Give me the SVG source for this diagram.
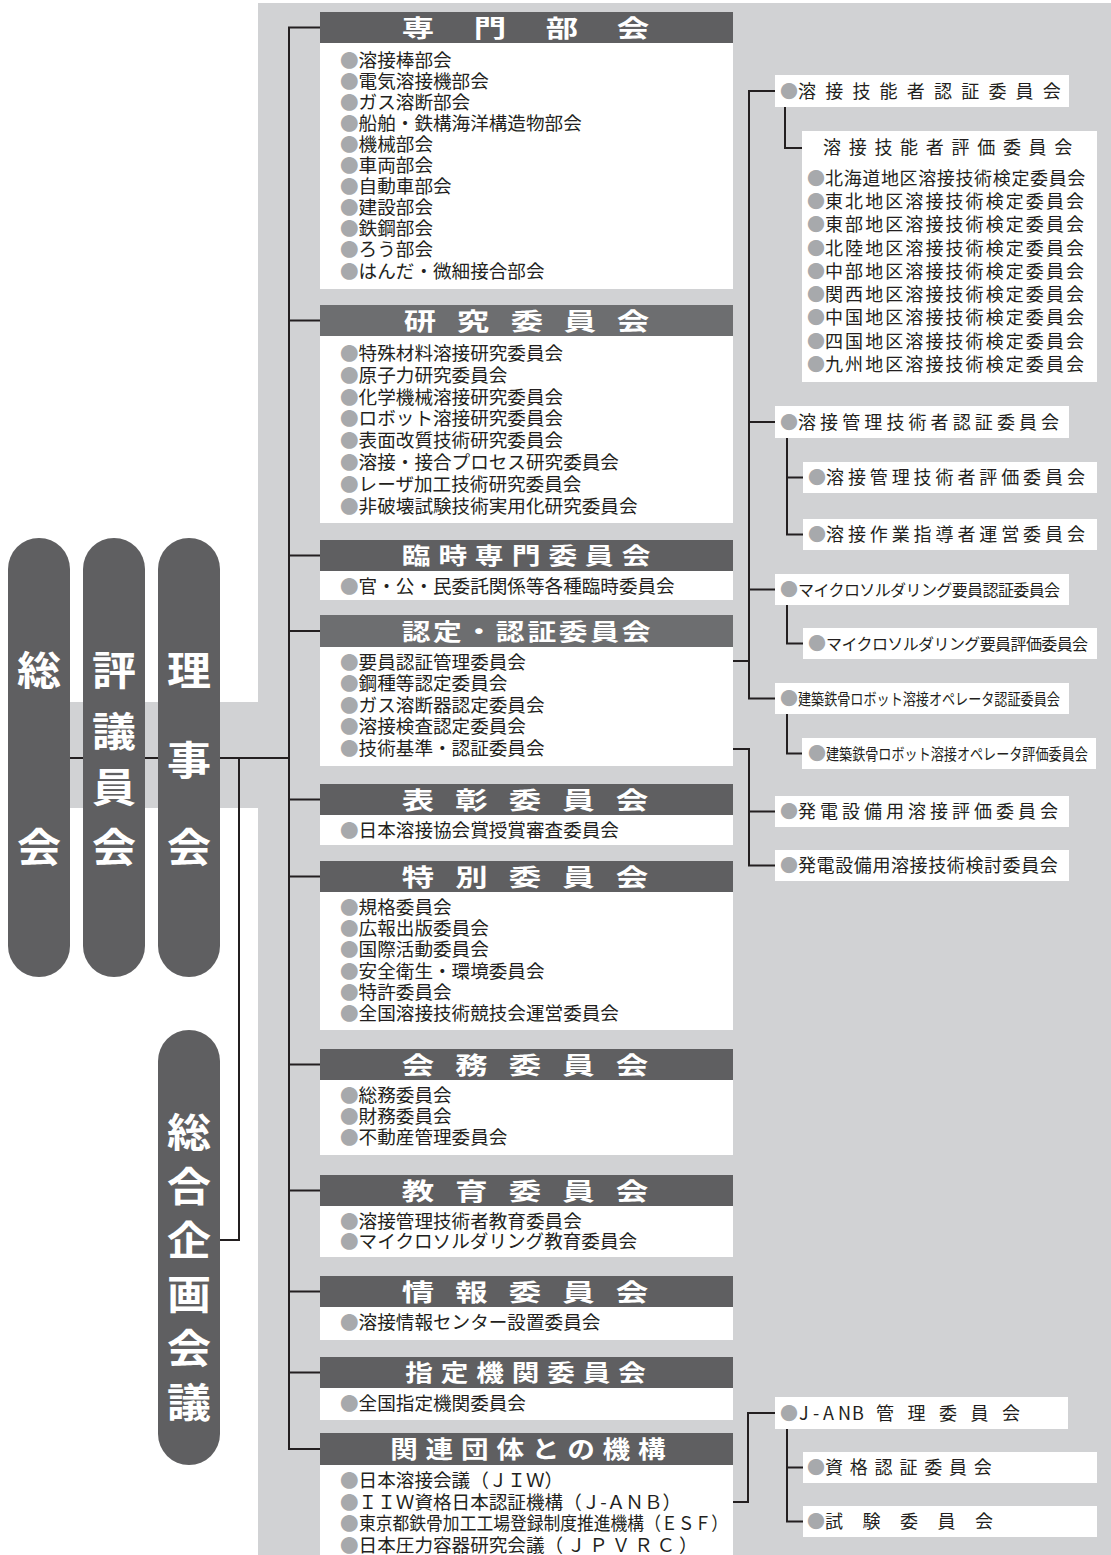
<svg xmlns="http://www.w3.org/2000/svg" width="1111" height="1555" viewBox="0 0 1111 1555">
<style>
text{font-family:"Noto Sans CJK JP","Noto Sans",sans-serif;fill:#231f20}
.bg{fill:#d1d2d4}
.pill{fill:#5f5f61}
.hd{fill:#5f5f61}
.hd2{fill:#6d6e70}
.wb{fill:#ffffff}
.pt{font-size:40px;font-weight:700;fill:#ffffff;text-anchor:middle}
.ht{font-size:24px;font-weight:700;fill:#ffffff;text-anchor:middle}
.hs{font-size:23px;font-weight:700;fill:#ffffff;text-anchor:middle}
.it{font-size:18.6px}
.rt{font-size:18px}
.bl{fill:#a7a9ac}
.ln{stroke:#231f20;stroke-width:2;fill:none}
</style>
<rect class="bg" x="258" y="3" width="853" height="1552"/>
<rect class="bg" x="70" y="702" width="190" height="106"/>

<g id="connectors">
<path class="ln" d="M70,758H83M145,758H158M220,758H289"/>
<path class="ln" d="M239,758V1240H220"/>
<path class="ln" d="M320,27.5H289V1449H320M289,320.5H320M289,555.5H320M289,631H320M289,799.5H320M289,876.5H320M289,1064.5H320M289,1190.5H320M289,1291.5H320M289,1372.5H320"/>
<path class="ln" d="M775,91H749V698.5H775M749,422H775M749,589.5H775M535,661H749"/>
<path class="ln" d="M785,107V148H802M787,438V534.5H803M787,477.5H803M787,605V643.5H803M787,714V753.5H802"/>
<path class="ln" d="M552,749H749V865.5H775M749,811.5H775"/>
<path class="ln" d="M687,1502H748V1413H775M787,1429V1521.5H803M787,1467.5H803"/>
</g>

<g id="n-soukai"><rect class="pill" x="8" y="538" width="62" height="439" rx="31"/><text class="pt" transform="scale(1.1,1)" x="35.45 35.45" y="685 862">総会</text></g>
<g id="n-hyogiinkai"><rect class="pill" x="83" y="538" width="62" height="439" rx="31"/><text class="pt" transform="scale(1.1,1)" x="103.6 103.6 103.6 103.6" y="685 746 802 862">評議員会</text></g>
<g id="n-rijikai"><rect class="pill" x="158" y="538" width="62" height="439" rx="31"/><text class="pt" transform="scale(1.1,1)" x="171.8 171.8 171.8" y="685 775 862">理事会</text></g>
<g id="n-sogokikaku"><rect class="pill" x="158" y="1030" width="62" height="435" rx="31"/><text class="pt" transform="scale(1.1,1)" x="171.8 171.8 171.8 171.8 171.8 171.8" y="1147 1201 1255 1309 1363 1417">総合企画会議</text></g>

<g id="n-senmonbukai">
<rect class="hd" x="320" y="12" width="413" height="31"/><rect class="wb" x="320" y="43" width="413" height="246"/>
<text class="ht" transform="scale(1.35,1)" x="309.6 363 416.3 468.9" y="36.6">専門部会</text>
<text class="it" x="340" y="66.5"><tspan class="bl">●</tspan>溶接棒部会</text>
<text class="it" x="340" y="87.6"><tspan class="bl">●</tspan>電気溶接機部会</text>
<text class="it" x="340" y="108.7"><tspan class="bl">●</tspan>ガス溶断部会</text>
<text class="it" x="340" y="129.8"><tspan class="bl">●</tspan>船舶・鉄構海洋構造物部会</text>
<text class="it" x="340" y="150.9"><tspan class="bl">●</tspan>機械部会</text>
<text class="it" x="340" y="172"><tspan class="bl">●</tspan>車両部会</text>
<text class="it" x="340" y="193.1"><tspan class="bl">●</tspan>自動車部会</text>
<text class="it" x="340" y="214.2"><tspan class="bl">●</tspan>建設部会</text>
<text class="it" x="340" y="235.3"><tspan class="bl">●</tspan>鉄鋼部会</text>
<text class="it" x="340" y="256.4"><tspan class="bl">●</tspan>ろう部会</text>
<text class="it" x="340" y="277.5"><tspan class="bl">●</tspan>はんだ・微細接合部会</text>
</g>

<g id="n-kenkyu">
<rect class="hd2" x="320" y="305" width="413" height="31"/><rect class="wb" x="320" y="336" width="413" height="187"/>
<text class="ht" transform="scale(1.35,1)" x="311.1 350.4 390.4 429.6 468.9" y="329.6">研究委員会</text>
<text class="it" x="340" y="360"><tspan class="bl">●</tspan>特殊材料溶接研究委員会</text>
<text class="it" x="340" y="381.8"><tspan class="bl">●</tspan>原子力研究委員会</text>
<text class="it" x="340" y="403.6"><tspan class="bl">●</tspan>化学機械溶接研究委員会</text>
<text class="it" x="340" y="425.4"><tspan class="bl">●</tspan>ロボット溶接研究委員会</text>
<text class="it" x="340" y="447.2"><tspan class="bl">●</tspan>表面改質技術研究委員会</text>
<text class="it" x="340" y="469"><tspan class="bl">●</tspan>溶接・接合プロセス研究委員会</text>
<text class="it" x="340" y="490.8"><tspan class="bl">●</tspan>レーザ加工技術研究委員会</text>
<text class="it" x="340" y="512.6"><tspan class="bl">●</tspan>非破壊試験技術実用化研究委員会</text>
</g>

<g id="n-rinji">
<rect class="hd" x="320" y="540" width="413" height="31"/><rect class="wb" x="320" y="571" width="413" height="29"/>
<text class="hs" transform="scale(1.25,1)" x="332.8 362.2 391.4 420.8 450.2 479.4 508.8" y="564.2">臨時専門委員会</text>
<text class="it" x="340" y="593"><tspan class="bl">●</tspan>官・公・民委託関係等各種臨時委員会</text>
</g>

<g id="n-nintei">
<rect class="hd2" x="320" y="615" width="413" height="32"/><rect class="wb" x="320" y="647" width="413" height="119"/>
<text class="hs" transform="scale(1.25,1)" x="332.8 357.9 383.1 408.2 433.4 458.5 483.7 508.8" y="639.7">認定・認証委員会</text>
<text class="it" x="340" y="669"><tspan class="bl">●</tspan>要員認証管理委員会</text>
<text class="it" x="340" y="690.4"><tspan class="bl">●</tspan>鋼種等認定委員会</text>
<text class="it" x="340" y="711.8"><tspan class="bl">●</tspan>ガス溶断器認定委員会</text>
<text class="it" x="340" y="733.2"><tspan class="bl">●</tspan>溶接検査認定委員会</text>
<text class="it" x="340" y="754.6"><tspan class="bl">●</tspan>技術基準・認証委員会</text>
</g>

<g id="n-hyosho">
<rect class="hd" x="320" y="784" width="413" height="31"/><rect class="wb" x="320" y="815" width="413" height="30"/>
<text class="ht" transform="scale(1.35,1)" x="309.6 349.3 388.9 428.5 468.1" y="808.6">表彰委員会</text>
<text class="it" x="340" y="837"><tspan class="bl">●</tspan>日本溶接協会賞授賞審査委員会</text>
</g>

<g id="n-tokubetsu">
<rect class="hd" x="320" y="861" width="413" height="31"/><rect class="wb" x="320" y="892" width="413" height="138"/>
<text class="ht" transform="scale(1.35,1)" x="309.6 349.3 388.9 428.5 468.1" y="885.6">特別委員会</text>
<text class="it" x="340" y="914"><tspan class="bl">●</tspan>規格委員会</text>
<text class="it" x="340" y="935.2"><tspan class="bl">●</tspan>広報出版委員会</text>
<text class="it" x="340" y="956.4"><tspan class="bl">●</tspan>国際活動委員会</text>
<text class="it" x="340" y="977.6"><tspan class="bl">●</tspan>安全衛生・環境委員会</text>
<text class="it" x="340" y="998.8"><tspan class="bl">●</tspan>特許委員会</text>
<text class="it" x="340" y="1020"><tspan class="bl">●</tspan>全国溶接技術競技会運営委員会</text>
</g>

<g id="n-kaimu">
<rect class="hd" x="320" y="1049" width="413" height="31"/><rect class="wb" x="320" y="1080" width="413" height="75"/>
<text class="ht" transform="scale(1.35,1)" x="309.6 349.3 388.9 428.5 468.1" y="1073.6">会務委員会</text>
<text class="it" x="340" y="1102"><tspan class="bl">●</tspan>総務委員会</text>
<text class="it" x="340" y="1123"><tspan class="bl">●</tspan>財務委員会</text>
<text class="it" x="340" y="1144"><tspan class="bl">●</tspan>不動産管理委員会</text>
</g>

<g id="n-kyoiku">
<rect class="hd" x="320" y="1175" width="413" height="31"/><rect class="wb" x="320" y="1206" width="413" height="51"/>
<text class="ht" transform="scale(1.35,1)" x="309.6 349.3 388.9 428.5 468.1" y="1199.6">教育委員会</text>
<text class="it" x="340" y="1228"><tspan class="bl">●</tspan>溶接管理技術者教育委員会</text>
<text class="it" x="340" y="1248"><tspan class="bl">●</tspan>マイクロソルダリング教育委員会</text>
</g>

<g id="n-joho">
<rect class="hd" x="320" y="1276" width="413" height="31"/><rect class="wb" x="320" y="1307" width="413" height="33"/>
<text class="ht" transform="scale(1.35,1)" x="309.6 349.3 388.9 428.5 468.1" y="1300.6">情報委員会</text>
<text class="it" x="340" y="1329"><tspan class="bl">●</tspan>溶接情報センター設置委員会</text>
</g>

<g id="n-shitei">
<rect class="hd" x="320" y="1357" width="413" height="31"/><rect class="wb" x="320" y="1388" width="413" height="32"/>
<text class="hs" transform="scale(1.2,1)" x="349.2 378.75 408.3 437.9 467.5 497.1 526.7" y="1381.2">指定機関委員会</text>
<text class="it" x="340" y="1410"><tspan class="bl">●</tspan>全国指定機関委員会</text>
</g>

<g id="n-kanren">
<rect class="hd" x="320" y="1433" width="413" height="32"/><rect class="wb" x="320" y="1465" width="413" height="90"/>
<text class="ht" transform="scale(1.15,1)" x="351.3 382.1 412.9 443.7 474.4 505.2 536 566.8" y="1458.3">関連団体との機構</text>
<text class="it" x="340" y="1487"><tspan class="bl">●</tspan>日本溶接会議（ＪＩＷ）</text>
<text class="it" x="340" y="1508.7"><tspan class="bl">●</tspan>ＩＩＷ資格日本認証機構（Ｊ-ＡＮＢ）</text>
<text class="it" x="340" y="1530.4"><tspan class="bl">●</tspan><tspan x="359" textLength="369" lengthAdjust="spacingAndGlyphs">東京都鉄骨加工工場登録制度推進機構（ＥＳＦ）</tspan></text>
<text class="it" x="340" y="1552.1"><tspan class="bl">●</tspan>日本圧力容器研究会議<tspan letter-spacing="3.8">（ＪＰＶＲＣ）</tspan></text>
</g>

<g id="n-ginousha">
<rect class="wb" x="775" y="75" width="294" height="32"/>
<text class="rt" x="780" y="97.8"><tspan class="bl">●</tspan><tspan letter-spacing="9.2">溶接技能者認証委員会</tspan></text>
</g>

<g id="n-ginousha-hyoka">
<rect class="wb" x="802" y="131" width="295" height="251"/>
<text class="rt" x="823" y="154" letter-spacing="7.7">溶接技能者評価委員会</text>
<text class="rt" x="807" y="184.8"><tspan class="bl">●</tspan><tspan letter-spacing="0.64">北海道地区溶接技術検定委員会</tspan></text>
<text class="rt" x="807" y="208"><tspan class="bl">●</tspan><tspan letter-spacing="2.08">東北地区溶接技術検定委員会</tspan></text>
<text class="rt" x="807" y="231.3"><tspan class="bl">●</tspan><tspan letter-spacing="2.08">東部地区溶接技術検定委員会</tspan></text>
<text class="rt" x="807" y="254.5"><tspan class="bl">●</tspan><tspan letter-spacing="2.08">北陸地区溶接技術検定委員会</tspan></text>
<text class="rt" x="807" y="277.8"><tspan class="bl">●</tspan><tspan letter-spacing="2.08">中部地区溶接技術検定委員会</tspan></text>
<text class="rt" x="807" y="301"><tspan class="bl">●</tspan><tspan letter-spacing="2.08">関西地区溶接技術検定委員会</tspan></text>
<text class="rt" x="807" y="324.3"><tspan class="bl">●</tspan><tspan letter-spacing="2.08">中国地区溶接技術検定委員会</tspan></text>
<text class="rt" x="807" y="347.5"><tspan class="bl">●</tspan><tspan letter-spacing="2.08">四国地区溶接技術検定委員会</tspan></text>
<text class="rt" x="807" y="370.8"><tspan class="bl">●</tspan><tspan letter-spacing="2.08">九州地区溶接技術検定委員会</tspan></text>
</g>

<g id="n-kanri-nintei">
<rect class="wb" x="775" y="406" width="294" height="32"/>
<text class="rt" x="780" y="428.8"><tspan class="bl">●</tspan><tspan letter-spacing="4.1">溶接管理技術者認証委員会</tspan></text>
</g>
<g id="n-kanri-hyoka">
<rect class="wb" x="803" y="462" width="294" height="31"/>
<text class="rt" x="808" y="484.3"><tspan class="bl">●</tspan><tspan letter-spacing="3.9">溶接管理技術者評価委員会</tspan></text>
</g>
<g id="n-sagyo-shidosha">
<rect class="wb" x="803" y="519" width="294" height="31"/>
<text class="rt" x="808" y="541.3"><tspan class="bl">●</tspan><tspan letter-spacing="3.9">溶接作業指導者運営委員会</tspan></text>
</g>
<g id="n-micro-nintei">
<rect class="wb" x="775" y="574" width="294" height="31"/>
<text class="rt" x="780" y="596"><tspan class="bl">●</tspan><tspan style="font-size:16px" letter-spacing="-0.6">マイクロソルダリング要員認証委員会</tspan></text>
</g>
<g id="n-micro-hyoka">
<rect class="wb" x="803" y="628" width="294" height="31"/>
<text class="rt" x="808" y="650"><tspan class="bl">●</tspan><tspan style="font-size:16px" letter-spacing="-0.6">マイクロソルダリング要員評価委員会</tspan></text>
</g>
<g id="n-kenchiku-nintei">
<rect class="wb" x="775" y="683" width="294" height="31"/>
<text class="rt bl" x="780" y="705.3">●</text>
<text class="rt" style="font-size:16px" transform="translate(798,704.6) scale(0.819,1)" x="0" y="0">建築鉄骨ロボット溶接オペレータ認証委員会</text>
</g>
<g id="n-kenchiku-hyoka">
<rect class="wb" x="802" y="738" width="294" height="31"/>
<text class="rt bl" x="808" y="760.3">●</text>
<text class="rt" style="font-size:16px" transform="translate(826,759.6) scale(0.819,1)" x="0" y="0">建築鉄骨ロボット溶接オペレータ評価委員会</text>
</g>
<g id="n-hatsuden-hyoka">
<rect class="wb" x="775" y="796" width="294" height="31"/>
<text class="rt" x="780" y="818.3"><tspan class="bl">●</tspan><tspan letter-spacing="4">発電設備用溶接評価委員会</tspan></text>
</g>
<g id="n-hatsuden-kento">
<rect class="wb" x="775" y="850" width="294" height="31"/>
<text class="rt" x="780" y="872.3"><tspan class="bl">●</tspan><tspan letter-spacing="0.6">発電設備用溶接技術検討委員会</tspan></text>
</g>
<g id="n-janb">
<rect class="wb" x="775" y="1397" width="293" height="32"/>
<text class="rt" x="780" y="1419.8"><tspan class="bl">●</tspan><tspan x="799 813 823 838 852">J-ANB</tspan><tspan x="876" letter-spacing="13.5">管理委員会</tspan></text>
</g>
<g id="n-shikaku">
<rect class="wb" x="803" y="1452" width="294" height="31"/>
<text class="rt" x="807" y="1474.3"><tspan class="bl">●</tspan><tspan letter-spacing="6.8">資格認証委員会</tspan></text>
</g>
<g id="n-shiken">
<rect class="wb" x="803" y="1506" width="294" height="31"/>
<text class="rt" x="807" y="1528.3"><tspan class="bl">●</tspan><tspan letter-spacing="19.5">試験委員会</tspan></text>
</g>
</svg>
